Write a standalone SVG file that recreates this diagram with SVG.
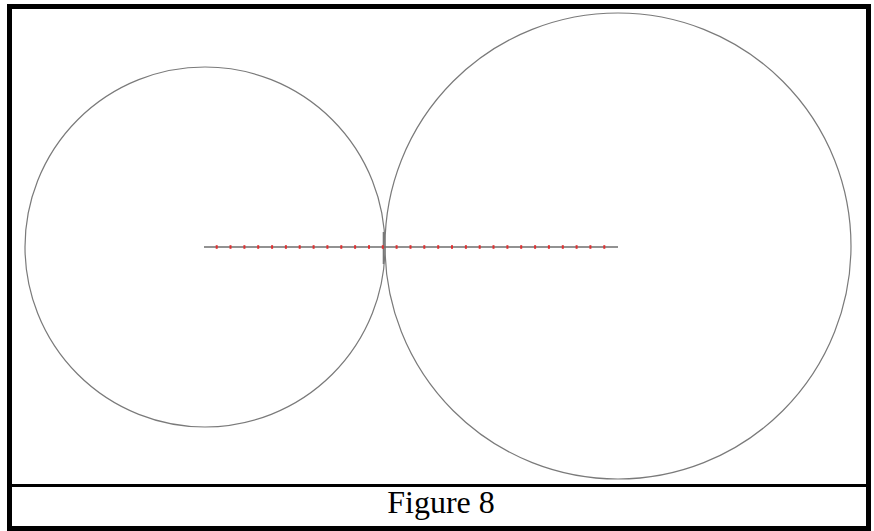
<svg xmlns="http://www.w3.org/2000/svg" width="874" height="531" viewBox="0 0 874 531">
<style>
.circ{fill:none;stroke:#7a7a7a;stroke-width:1.2}
.axis{stroke:#6e6e6e;stroke-width:1.5}
.dot{fill:#e03030}
.cap{font-family:"Liberation Serif","Times New Roman",serif;font-size:32px;fill:#000}
</style>
<defs>
<rect id="d" class="dot" x="-1" y="-1.8" width="2" height="3.6"/>
</defs>
<rect x="0" y="0" width="874" height="531" fill="#fff"/>
<g id="frame">
<rect x="9.5" y="6.5" width="859" height="522" fill="none" stroke="#000" stroke-width="5"/>
<line x1="12" y1="485.5" x2="866" y2="485.5" stroke="#000" stroke-width="3"/>
</g>
<g id="circle-left"><circle class="circ" cx="205" cy="247" r="180"/></g>
<g id="circle-right"><circle class="circ" cx="618" cy="246" r="233"/></g>
<g id="axis">
<line class="axis" x1="204" y1="247" x2="618" y2="247"/>
<line x1="383.5" y1="232" x2="383.5" y2="264" stroke="#777" stroke-width="1.6"/>
<use href="#d" x="216.7" y="247"/><use href="#d" x="230.5" y="247"/><use href="#d" x="244.4" y="247"/><use href="#d" x="258.2" y="247"/><use href="#d" x="272.1" y="247"/><use href="#d" x="285.9" y="247"/><use href="#d" x="299.7" y="247"/><use href="#d" x="313.6" y="247"/><use href="#d" x="327.4" y="247"/><use href="#d" x="341.3" y="247"/><use href="#d" x="355.1" y="247"/><use href="#d" x="369" y="247"/><use href="#d" x="382.8" y="247"/><use href="#d" x="396.6" y="247"/><use href="#d" x="410.5" y="247"/><use href="#d" x="424.3" y="247"/><use href="#d" x="438.2" y="247"/><use href="#d" x="452" y="247"/><use href="#d" x="465.9" y="247"/><use href="#d" x="479.7" y="247"/><use href="#d" x="493.5" y="247"/><use href="#d" x="507.4" y="247"/><use href="#d" x="521.2" y="247"/><use href="#d" x="535.1" y="247"/><use href="#d" x="548.9" y="247"/><use href="#d" x="562.8" y="247"/><use href="#d" x="576.6" y="247"/><use href="#d" x="590.4" y="247"/><use href="#d" x="604.3" y="247"/>
</g>
<g id="caption"><text class="cap" x="441" y="513" text-anchor="middle">Figure 8</text></g>
</svg>
